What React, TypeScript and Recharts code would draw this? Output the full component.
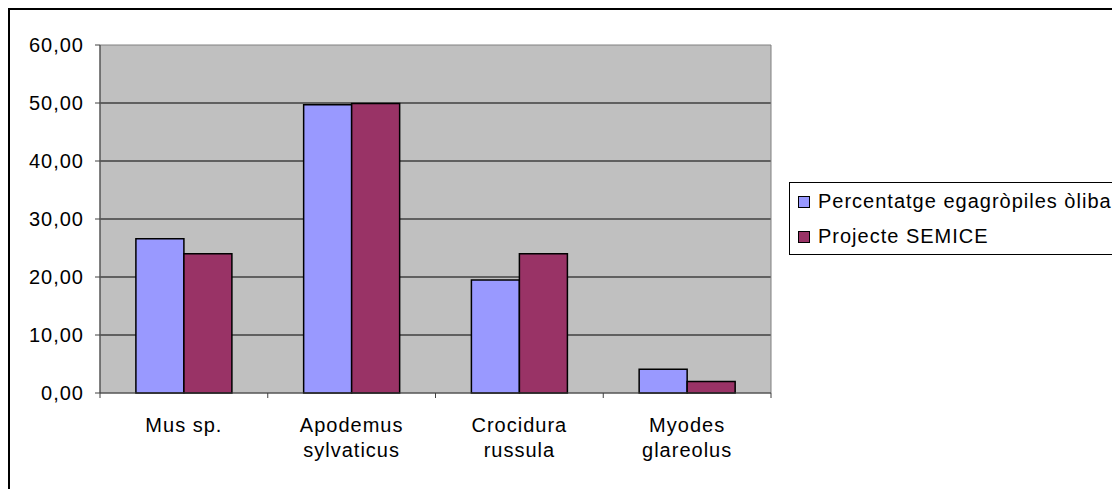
import React from 'react';
import { BarChart, Bar, XAxis, YAxis, CartesianGrid, Legend, ReferenceArea } from 'recharts';

const species = ['Mus sp.', 'Apodemus\nsylvaticus', 'Crocidura\nrussula', 'Myodes\nglareolus'];
const pellets = [26.6, 49.7, 19.5, 4.1];
const semice = [24.0, 49.9, 24.0, 2.0];
const yTicks = [0, 10, 20, 30, 40, 50, 60];
const gridValues = [10, 20, 30, 40, 50];

const seriesNames = ['Percentatge egagròpiles òliba', 'Projecte SEMICE'];
const seriesColors = ['#9999FF', '#993366'];

const data = species.map((name, i) => ({ name, pellets: pellets[i], semice: semice[i] }));

const CHART_W = 1106;
const CHART_H = 474;
const MARGIN = { top: 35, right: 345, left: 0, bottom: 0 };
const Y_AXIS_W = 90;
const X_AXIS_H = 91;
const plotWidth = CHART_W - MARGIN.left - MARGIN.right - Y_AXIS_W;
const band = plotWidth / species.length;

const FONT = 'Liberation Sans, Arial, sans-serif';
const fmt = (v: number) => v.toFixed(2).replace('.', ',');

// category labels sit centred, tick marks go on the category boundaries
const CategoryTick = (props: any) => {
  const { x, y, payload, index } = props;
  const lines = String(payload.value).split('\n');
  const left = x - band / 2;
  return (
    <g>
      <line x1={left} y1={y - 8} x2={left} y2={y - 3} stroke="#404040" />
      {index === species.length - 1 && (
        <line x1={left + band} y1={y - 8} x2={left + band} y2={y - 3} stroke="#404040" />
      )}
      <text x={x} y={y + 31} textAnchor="middle" fontSize={20} letterSpacing={1} fill="#000" fontFamily={FONT}>
        {lines.map((l, i) => (
          <tspan key={i} x={x} dy={i === 0 ? 0 : 25}>
            {l}
          </tspan>
        ))}
      </text>
    </g>
  );
};

const LegendBox = () => (
  <div
    style={{
      width: 324,
      height: 70,
      border: '1px solid #000',
      background: '#fff',
      boxSizing: 'content-box',
      fontFamily: FONT,
      fontSize: 20,
      letterSpacing: 1,
      color: '#000',
      paddingTop: 1,
      textAlign: 'left',
    }}
  >
    {seriesNames.map((n, i) => (
      <div key={n} style={{ display: 'flex', alignItems: 'center', height: 35, paddingLeft: 8 }}>
        <span
          style={{
            display: 'inline-block',
            width: 10,
            height: 10,
            background: seriesColors[i],
            border: '1px solid #000',
            marginRight: 8,
          }}
        />
        <span>{n}</span>
      </div>
    ))}
  </div>
);

export default function App() {
  return (
    <div
      style={{
        width: 1112,
        height: 481,
        borderLeft: '2px solid #000',
        borderTop: '2px solid #000',
        fontFamily: FONT,
        background: '#fff',
      }}
    >
      <BarChart
        width={CHART_W}
        height={CHART_H}
        data={data}
        margin={MARGIN}
        barCategoryGap="21.4%"
        barGap={0}
      >
        <CartesianGrid vertical={false} stroke="#000" fill="#C0C0C0" strokeOpacity={1} horizontalValues={gridValues} />
        {/* grey frame round the plot area */}
        <ReferenceArea y1={0} y2={60} fill="none" stroke="#808080" strokeWidth={1} />
        <XAxis
          dataKey="name"
          height={X_AXIS_H}
          tickLine={false}
          axisLine={{ stroke: '#404040' }}
          tick={<CategoryTick />}
          interval={0}
        />
        <YAxis
          width={Y_AXIS_W}
          domain={[0, 60]}
          ticks={yTicks}
          tickFormatter={fmt}
          tickSize={5}
          tickLine={{ stroke: '#404040' }}
          axisLine={{ stroke: '#404040' }}
          tick={{ fill: '#000', fontSize: 20, letterSpacing: 1, fontFamily: FONT }}
          tickMargin={11}
          interval={0}
        />
        <Legend
          layout="horizontal"
          verticalAlign="middle"
          align="center"
          wrapperStyle={{ left: 779, top: 172, width: 326 }}
          content={<LegendBox />}
        />
        <Bar dataKey="pellets" name={seriesNames[0]} fill={seriesColors[0]} stroke="#000" strokeWidth={1.5} isAnimationActive={false} />
        <Bar dataKey="semice" name={seriesNames[1]} fill={seriesColors[1]} stroke="#000" strokeWidth={1.5} isAnimationActive={false} />
      </BarChart>
    </div>
  );
}
